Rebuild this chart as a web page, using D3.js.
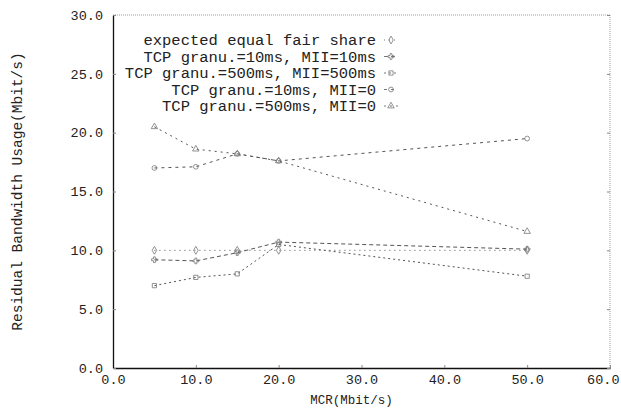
<!DOCTYPE html>
<html>
<head>
<meta charset="utf-8">
<script src="https://cdn.jsdelivr.net/npm/d3@7"></script>
<style>
  body { margin: 0; background: #fff; }
  text { font-family: "Liberation Mono", "Courier New", monospace; fill: #222; }
</style>
</head>
<body>
<div id="chart"></div>
<script>
// Datos
const mcr = [5, 10, 15, 20, 50];
const fairShare = [10.0, 10.0, 10.0, 10.0, 10.0];
const tcp10Mii10 = [9.2, 9.1, 9.8, 10.7, 10.1];
const tcp500Mii500 = [7.0, 7.7, 8.0, 10.5, 7.8];
const tcp10Mii0 = [17.0, 17.1, 18.2, 17.6, 19.5];
const tcp500Mii0 = [20.5, 18.6, 18.2, 17.6, 11.6];
const seriesNames = [
  "expected equal fair share",
  "TCP granu.=10ms, MII=10ms",
  "TCP granu.=500ms, MII=500ms",
  "TCP granu.=10ms, MII=0",
  "TCP granu.=500ms, MII=0"
];
const xTicks = [0, 10, 20, 30, 40, 50, 60];
const yTicks = [0, 5, 10, 15, 20, 25, 30];

const width = 621, height = 409;
const margin = { top: 15, right: 11, bottom: 41, left: 113 };

const svg = d3.select("#chart").append("svg")
  .attr("width", width).attr("height", height);

const x = d3.scaleLinear().domain([0, 60]).range([margin.left, width - margin.right]);
const y = d3.scaleLinear().domain([0, 30]).range([height - margin.bottom, margin.top]);

// Marco: arriba y derecha punteados
svg.append("line")
  .attr("x1", x(0)).attr("x2", x(60)).attr("y1", y(30)).attr("y2", y(30))
  .attr("stroke", "#999").attr("stroke-dasharray", "1,1");
svg.append("line")
  .attr("x1", x(60)).attr("x2", x(60)).attr("y1", y(30)).attr("y2", y(0))
  .attr("stroke", "#999").attr("stroke-dasharray", "1,1");

// Ejes
const xAxis = svg.append("g")
  .attr("transform", `translate(0,${y(0)})`)
  .call(d3.axisBottom(x).tickValues(xTicks).tickSizeInner(-3).tickSizeOuter(0)
    .tickFormat(d3.format(".1f")).tickPadding(6));
const yAxis = svg.append("g")
  .attr("transform", `translate(${x(0)},0)`)
  .call(d3.axisLeft(y).tickValues(yTicks).tickSizeInner(-3).tickSizeOuter(0)
    .tickFormat(d3.format(".1f")).tickPadding(10));
// Marcas del eje derecho
svg.append("g")
  .attr("transform", `translate(${x(60)},0)`)
  .call(d3.axisRight(y).tickValues(yTicks).tickSizeInner(-3).tickSizeOuter(0).tickFormat(""))
  .call(g => g.select(".domain").remove())
  .selectAll("line").attr("stroke", "#888");

[xAxis, yAxis].forEach(g => {
  g.select(".domain").attr("stroke", "#111").attr("stroke-width", 1.3);
  g.selectAll(".tick line").attr("stroke", "#888");
  g.selectAll(".tick text").style("font-size", "13.5px").attr("fill", "#333");
});
// La ultima etiqueta queda pegada al borde
xAxis.selectAll(".tick text").filter(d => d === 60)
  .attr("text-anchor", "end").attr("dx", "9px");

// Titulos de ejes
svg.append("text")
  .attr("x", (x(0) + x(60)) / 2 - 10).attr("y", 404)
  .attr("text-anchor", "middle").style("font-size", "12.5px").attr("fill", "#333")
  .text("MCR(Mbit/s)");
svg.append("text")
  .attr("transform", `translate(22,${(y(0) + y(30)) / 2}) rotate(-90)`)
  .attr("text-anchor", "middle").style("font-size", "14.5px").attr("fill", "#333")
  .text("Residual Bandwidth Usage(Mbit/s)");

// Series
const series = [
  { name: seriesNames[0], values: fairShare, dash: "1,4", symbol: d3.symbolDiamond },
  { name: seriesNames[1], values: tcp10Mii10, dash: "4,3", symbol: d3.symbolCross },
  { name: seriesNames[2], values: tcp500Mii500, dash: "2,3", symbol: d3.symbolSquare },
  { name: seriesNames[3], values: tcp10Mii0, dash: "3,4", symbol: d3.symbolCircle },
  { name: seriesNames[4], values: tcp500Mii0, dash: "2,4", symbol: d3.symbolTriangle }
];

const line = d3.line().x((d, i) => x(mcr[i])).y(d => y(d));

series.forEach(s => {
  svg.append("path")
    .datum(s.values)
    .attr("d", line)
    .attr("fill", "none")
    .attr("stroke", "#555")
    .attr("stroke-width", 1)
    .attr("stroke-dasharray", s.dash);
  svg.selectAll(null)
    .data(s.values)
    .enter().append("path")
    .attr("transform", (d, i) => `translate(${x(mcr[i])},${y(d)})`)
    .attr("d", d3.symbol().type(s.symbol).size(18))
    .attr("fill", "none")
    .attr("stroke", "#777")
    .attr("stroke-width", 0.8);
});

// Leyenda
const legend = svg.append("g");
series.forEach((s, i) => {
  const ly = 40 + i * 16.5;
  legend.append("text")
    .attr("x", 376).attr("y", ly).attr("dy", "0.35em")
    .attr("text-anchor", "end").style("font-size", "15.5px").attr("fill", "#333")
    .text(s.name);
  legend.append("line")
    .attr("x1", 384).attr("x2", 398).attr("y1", ly).attr("y2", ly)
    .attr("stroke", "#777").attr("stroke-dasharray", s.dash);
  legend.append("path")
    .attr("transform", `translate(391,${ly})`)
    .attr("d", d3.symbol().type(s.symbol).size(18))
    .attr("fill", "none").attr("stroke", "#777").attr("stroke-width", 0.8);
});
</script>
</body>
</html>
